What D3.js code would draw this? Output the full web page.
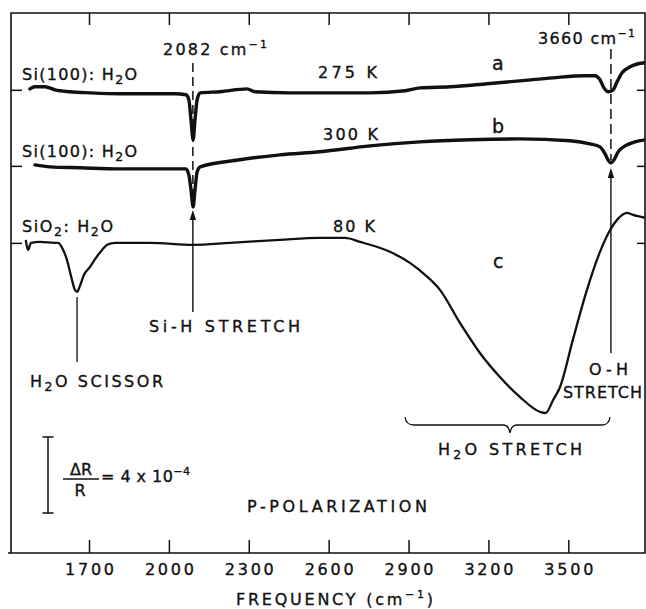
<!DOCTYPE html>
<html>
<head>
<meta charset="utf-8">
<script src="https://cdn.jsdelivr.net/npm/d3@7"></script>
<style>
  html, body { margin: 0; padding: 0; background: #fff; }
  svg { display: block; }
  text { font-family: "DejaVu Sans", sans-serif; fill: #111; stroke: #111; stroke-width: 0.35px; }
</style>
</head>
<body>
<script>
// ---------------- data ----------------
const freqTicks = [1700, 2000, 2300, 2600, 2900, 3200, 3500];
const curveNames = ["a", "b", "c"];
const curveOffsets = [24.36, 20.36, 16.31]; // baseline of each trace, units of 1e-4 dR/R
const markerFreqs = [2090, 3660];          // Si-H and O-H marker positions (as drawn)
const scaleBar = [2.1, 6.1];                 // dR/R = 4e-4 scale bar, units of 1e-4

// trace a : Si(100):H2O 275 K  (dR/R, units of 1e-4, relative to baseline)
const aFreq = [1478,1497,1535,1572,1629,1704,1816,1929,2023,2064,2075,2083,2091,2098,2106,2117,2192,2293,2323,2455,2605,2755,2887,2943,3056,3195,3318,3442,3563,3600,3619,3634,3649,3668,3683,3702,3732,3762,3788];
const aVal  = [0.05,0.16,0.16,0,-0.1,-0.16,-0.21,-0.21,-0.21,-0.26,-0.53,-1.58,-2.63,-1.58,-0.53,-0.16,-0.1,0.05,-0.1,-0.16,-0.16,-0.16,-0.05,0.1,0.16,0.32,0.47,0.63,0.74,0.74,0.53,0.1,-0.1,0,0.42,0.9,1.21,1.37,1.42];

// trace b : Si(100):H2O 300 K
const bFreq = [1497,1554,1666,1816,1967,2064,2075,2083,2091,2098,2106,2117,2267,2417,2567,2755,2943,3131,3318,3506,3581,3619,3638,3649,3660,3672,3687,3713,3750,3788];
const bVal  = [0.05,-0.05,-0.1,-0.16,-0.16,-0.16,-0.47,-1.26,-2.16,-1.26,-0.32,-0.05,0.32,0.58,0.74,1.05,1.26,1.37,1.42,1.32,1.16,1.0,0.63,0.32,0.16,0.32,0.74,1.05,1.26,1.37];

// trace c : SiO2:H2O 80 K
const cFreq = [1463,1471,1482,1516,1572,1584,1599,1617,1636,1647,1655,1666,1681,1704,1726,1749,1768,1798,1929,2091,2229,2417,2567,2661,2718,2830,2905,2962,3018,3093,3168,3243,3318,3394,3415,3443,3469,3517,3570,3619,3657,3683,3720,3743,3788];
const cVal  = [0.1,-0.37,0,0.05,0,0,-0.26,-0.89,-1.95,-2.47,-2.58,-2.26,-1.68,-1.26,-0.79,-0.37,-0.1,0,0,-0.1,0,0.16,0.26,0.26,0.05,-0.47,-1.05,-1.68,-2.47,-4.21,-5.79,-7.05,-8.1,-8.89,-8.95,-8.26,-7.58,-5.1,-2.47,-0.47,0.68,1.21,1.58,1.47,1.32];

// ---------------- chart ----------------
const W = 646, H = 609;
const svg = d3.select("body").append("svg").attr("width", W).attr("height", H);
const ink = "#111";

const x = d3.scaleLinear().domain([1407, 3788]).range([11, 645]);
const y = d3.scaleLinear().domain([0, 28.4]).range([553, 13]);

// frame
svg.append("path")
  .attr("d", `M8,553H645V13H11V553`)
  .attr("fill", "none").attr("stroke", ink).attr("stroke-width", 1.6);

function styleAxis(g) {
  g.select(".domain").remove();
  g.selectAll(".tick line").attr("stroke", ink).attr("stroke-width", 1.5);
}

// bottom axis with labels
const gx = svg.append("g").attr("transform", "translate(0,553)")
  .call(d3.axisBottom(x).tickValues(freqTicks).tickSize(-13).tickPadding(10.5).tickFormat(d3.format("d")));
styleAxis(gx);
gx.selectAll(".tick text")
  .attr("font-size", 16).attr("fill", ink)
  .attr("font-family", "DejaVu Sans, sans-serif")
  .attr("textLength", 49).attr("lengthAdjust", "spacing");

// top axis (ticks only)
const gt = svg.append("g").attr("transform", "translate(0,13)")
  .call(d3.axisTop(x).tickValues(freqTicks).tickSize(-12).tickFormat(""));
styleAxis(gt);

// left & right baseline ticks
const gl = svg.append("g").attr("transform", "translate(11,0)")
  .call(d3.axisLeft(y).tickValues(curveOffsets).tickSize(-11).tickFormat(""));
styleAxis(gl);
const gr = svg.append("g").attr("transform", "translate(645,0)")
  .call(d3.axisRight(y).tickValues(curveOffsets).tickSize(-8).tickFormat(""));
styleAxis(gr);

// traces
const series = [
  { f: aFreq, v: aVal, off: curveOffsets[0], w: 3.4 },
  { f: bFreq, v: bVal, off: curveOffsets[1], w: 3.4 },
  { f: cFreq, v: cVal, off: curveOffsets[2], w: 2.3 }
];
svg.append("clipPath").attr("id", "clip")
  .append("rect").attr("x", 11).attr("y", 13).attr("width", 634).attr("height", 540);
series.forEach(s => {
  const pts = s.f.map((f, i) => [f, s.v[i] + s.off]);
  svg.append("path")
    .attr("clip-path", "url(#clip)")
    .attr("d", d3.line().x(d => x(d[0])).y(d => y(d[1])).curve(d3.curveMonotoneX)(pts))
    .attr("fill", "none").attr("stroke", ink)
    .attr("stroke-width", s.w).attr("stroke-linejoin", "round").attr("stroke-linecap", "round");
});

// marker lines
const xs = x(markerFreqs[0]), xo = x(markerFreqs[1]);
svg.append("line").attr("x1", xs).attr("x2", xs).attr("y1", 63).attr("y2", 200)
  .attr("stroke", ink).attr("stroke-width", 1.5).attr("stroke-dasharray", "9,5");
svg.append("line").attr("x1", xo).attr("x2", xo).attr("y1", 49).attr("y2", 160)
  .attr("stroke", ink).attr("stroke-width", 1.5).attr("stroke-dasharray", "10,5");

function arrowUp(xp, tip, bottom) {
  svg.append("line").attr("x1", xp).attr("x2", xp).attr("y1", tip + 4).attr("y2", bottom)
    .attr("stroke", ink).attr("stroke-width", 1.4);
  svg.append("path").attr("d", `M${xp},${tip}L${xp - 3.2},${tip + 10}L${xp + 3.2},${tip + 10}Z`).attr("fill", ink);
}
arrowUp(xs, 210, 312);
arrowUp(xo, 168, 353);

// scissor line
const xsc = x(1655);
svg.append("line").attr("x1", xsc).attr("x2", xsc).attr("y1", 297).attr("y2", 362)
  .attr("stroke", ink).attr("stroke-width", 1.3);

// brace under H2O stretch
svg.append("path")
  .attr("d", "M405,417 Q406,425 414,425 L504,425 Q509,426 510,433 Q511,426 516,425 L602,425 Q609,425 610,417")
  .attr("fill", "none").attr("stroke", ink).attr("stroke-width", 1.3);

// scale bar
const sx = 48;
svg.append("path")
  .attr("d", `M${sx},${y(scaleBar[0])}V${y(scaleBar[1])}M${sx - 5.5},${y(scaleBar[0])}H${sx + 5.5}M${sx - 5.5},${y(scaleBar[1])}H${sx + 5.5}`)
  .attr("fill", "none").attr("stroke", ink).attr("stroke-width", 1.5);

// text helper: parts = [[string, kind]], kind: n | sub | sup
function label(x0, y0, parts, opt = {}) {
  const fs = opt.size || 16;
  const t = svg.append("text").attr("x", x0).attr("y", y0).attr("font-size", fs);
  if (opt.anchor) t.attr("text-anchor", opt.anchor);
  let shift = 0;
  parts.forEach(([s, k]) => {
    const target = k === "sub" ? 4 : k === "sup" ? -7 : 0;
    t.append("tspan").attr("dy", target - shift)
      .attr("font-size", k === "n" ? fs : (k === "sub" ? 12.5 : 11))
      .text(s);
    shift = target;
  });
  if (opt.w) t.attr("textLength", opt.w).attr("lengthAdjust", "spacing");
  return t;
}

label(163, 55, [["2082 cm", "n"], ["−1", "sup"]], { w: 104 });
label(538, 44, [["3660 cm", "n"], ["−1", "sup"]], { w: 97 });
label(22, 80, [["Si(100): H", "n"], ["2", "sub"], ["O", "n"]], { w: 115 });
label(22, 157, [["Si(100): H", "n"], ["2", "sub"], ["O", "n"]], { w: 115 });
label(318, 78, [["275 K", "n"]], { w: 59 });
label(323, 140, [["300 K", "n"]], { w: 55 });
label(492, 70, [[curveNames[0], "n"]], { size: 19 });
label(492, 133, [[curveNames[1], "n"]], { size: 19 });
label(22, 232, [["SiO", "n"], ["2", "sub"], [": H", "n"], ["2", "sub"], ["O", "n"]], { w: 91 });
label(333, 232, [["80 K", "n"]], { w: 42 });
label(493, 268, [[curveNames[2], "n"]], { size: 19 });
label(149, 332, [["Si-H STRETCH", "n"]], { w: 151 });
label(30, 387, [["H", "n"], ["2", "sub"], ["O SCISSOR", "n"]], { w: 133 });
label(589, 375, [["O-H", "n"]], { w: 39 });
label(563, 398, [["STRETCH", "n"]], { w: 79 });
label(438, 455, [["H", "n"], ["2", "sub"], ["O STRETCH", "n"]], { w: 144 });
label(247, 512, [["P-POLARIZATION", "n"]], { w: 180 });
label(236, 605, [["FREQUENCY (cm", "n"], ["−1", "sup"], [")", "n"]], { w: 197 });

// scale bar label
label(81, 475, [["ΔR", "n"]], { anchor: "middle" });
svg.append("line").attr("x1", 63).attr("x2", 99).attr("y1", 479).attr("y2", 479)
  .attr("stroke", ink).attr("stroke-width", 1.5);
label(80, 496, [["R", "n"]], { anchor: "middle" });
label(101, 482, [["= 4 x 10", "n"], ["−4", "sup"]], { w: 89 });
</script>
</body>
</html>
